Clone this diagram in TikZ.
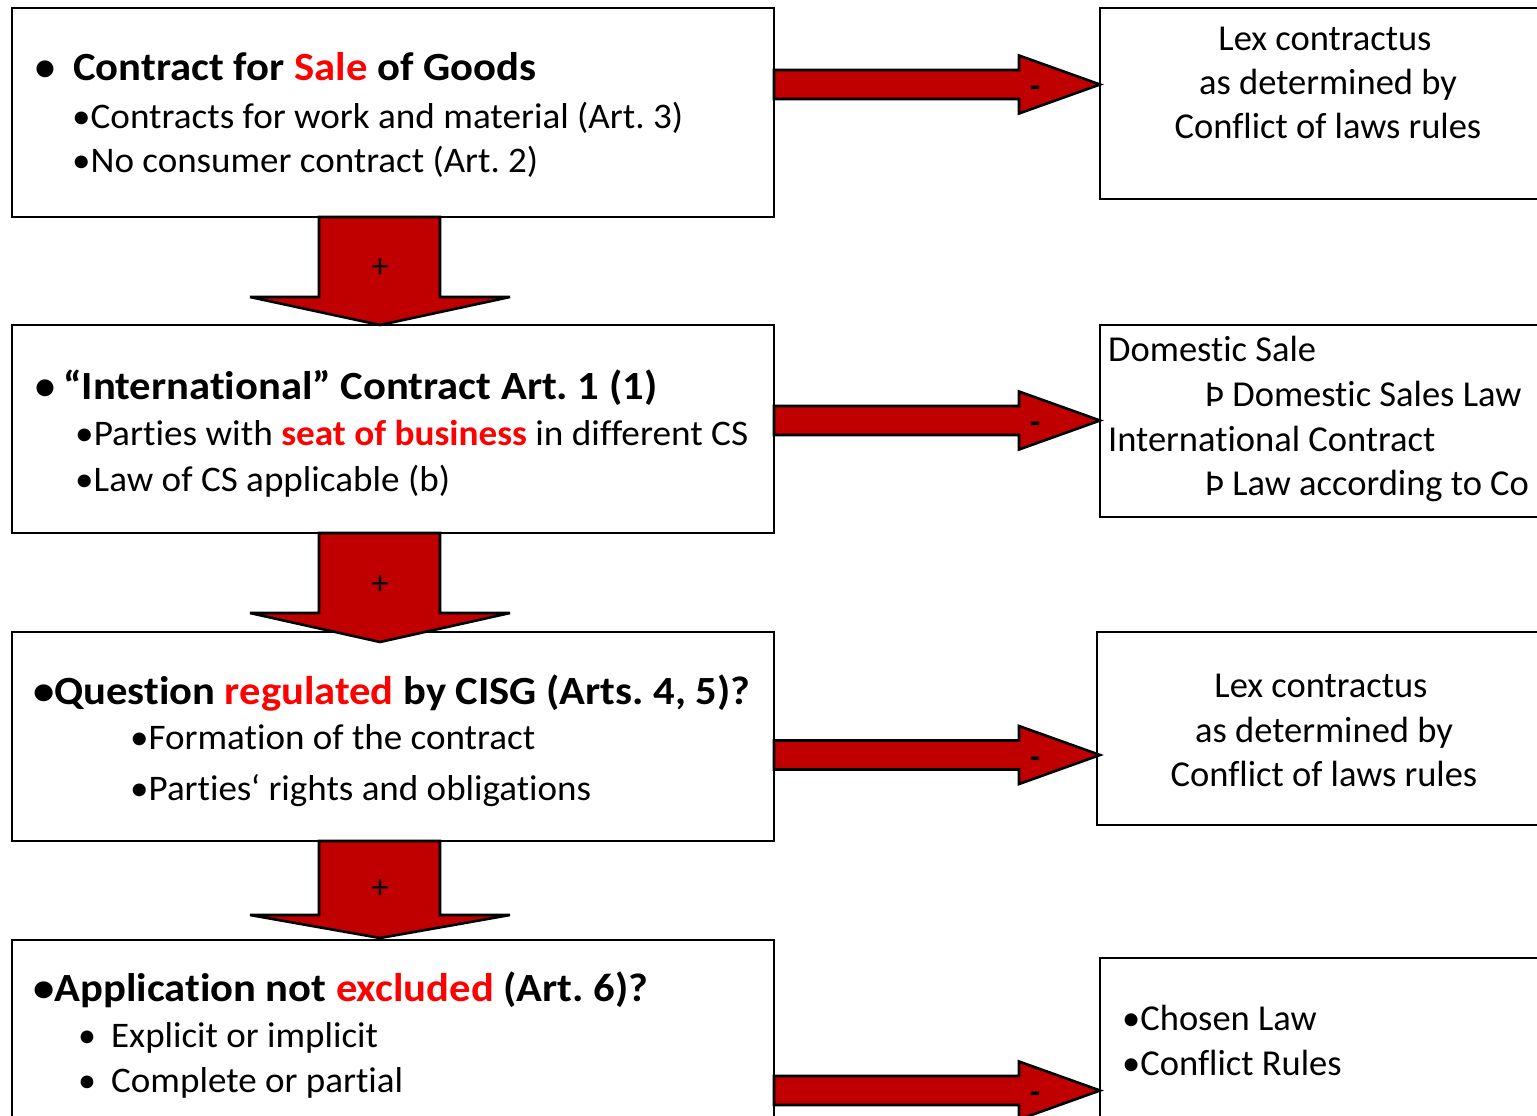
\documentclass[tikz,border=0pt]{standalone}
\usepackage{fontspec}
\setmainfont{Carlito}[Ligatures=NoCommon]
\usepackage{graphicx}
\usetikzlibrary{calc}
\frenchspacing
\definecolor{arrowfill}{HTML}{C00000}
\definecolor{keyred}{HTML}{FF0000}
% set a line to a given width, keeping its natural height
\newcommand{\fitw}[2]{\resizebox{#1}{\height}{#2}}
\newcommand{\hl}[1]{\textcolor{keyred}{#1}}
% block arrow pointing down from box #1 to box #2
% #3 = depth of the head base below #1, #4 = tip shift past top of #2, #5 = name of the sign node, #6 = sign baseline
\newcommand{\dnflow}[6]{%
  \draw[flow] ($(#1.south west)+(307,0)$) -- ($(#1.south west)+(428,0)$)
    -- ($(#1.south west)+(428,#3)$) -- ($(#1.south west)+(498,#3)$)
    -- ($(#2.north west)+(368,#4)$)
    -- ($(#1.south west)+(238,#3)$) -- ($(#1.south west)+(307,#3)$) -- cycle;
  \node[sgn] (#5) at ($(#1.south west)+(368,#6)$) {+};}
% block arrow pointing right from box #1 to box #2
% #3 = centre line below the top of #1, #4 = tip shift, #5 = name of the sign node
\newcommand{\rtflow}[5]{%
  \draw[flow] ($(#1.north east)+(0,#3-14.5)$) -- ($(#1.north east)+(245,#3-14.5)$)
    -- ($(#1.north east)+(245,#3-29)$)
    -- ($(#2.west |- #1.north east)+(#4,#3)$)
    -- ($(#1.north east)+(245,#3+29)$) -- ($(#1.north east)+(245,#3+14.5)$)
    -- ($(#1.north east)+(0,#3+14.5)$) -- cycle;
  \node[sgn,font=\fontsize{34}{40}\selectfont\bfseries] (#5) at ($(#1.north east)+(261,#3+13)$) {-};}
\begin{document}
\begin{tikzpicture}[x=1pt,y=-1pt,
  box/.style={draw=black,line width=2.5pt,fill=white,anchor=north west,inner sep=0pt,outer sep=0pt},
  flow/.style={draw=black,line width=2.6pt,fill=arrowfill,line join=miter,miter limit=4},
  ttl/.style={anchor=base west,inner sep=0pt,font=\fontsize{40}{48}\selectfont\bfseries},
  txt/.style={anchor=base west,inner sep=0pt,font=\fontsize{36}{44}\selectfont},
  ctxt/.style={anchor=base,inner sep=0pt,font=\fontsize{36.5}{44}\selectfont},
  ltxt/.style={anchor=base west,inner sep=0pt,font=\fontsize{36.5}{44}\selectfont},
  sgn/.style={anchor=base,inner sep=0pt,font=\fontsize{34}{40}\selectfont}]
\useasboundingbox (0,0) rectangle (1537,1116);
\clip (0,0) rectangle (1537,1116);
\fill[white] (0,0) rectangle (1537,1116);

% test boxes on the left
\node[box,minimum width=762pt,minimum height=209pt] (c1) at (12,8) {};
\node[box,minimum width=762pt,minimum height=208pt] (c2) at (12,325) {};
\node[box,minimum width=762pt,minimum height=209pt] (c3) at (12,632) {};
\node[box,minimum width=762pt,minimum height=260pt] (c4) at (12,940) {};

% outcome boxes on the right
\node[box,minimum width=500pt,minimum height=191pt] (r1) at (1100,8) {};
\node[box,minimum width=500pt,minimum height=192pt] (r2) at (1100,325) {};
\node[box,minimum width=503pt,minimum height=193pt] (r3) at (1097,632) {};
\node[box,minimum width=500pt,minimum height=260pt] (r4) at (1100,958) {};

% "+" arrows down the chain
\dnflow{c1}{c2}{80}{0}{p1}{60}
\dnflow{c2}{c3}{80}{10}{p2}{61}
\dnflow{c3}{c4}{74}{-2}{p3}{57}

% "-" arrows to the outcomes
\rtflow{c1}{r1}{76.5}{0}{m1}
\rtflow{c2}{r2}{95.5}{0}{m2}
\rtflow{c3}{r3}{123}{3}{m3}
\rtflow{c4}{r4}{150.5}{0}{m4}

% box 1
\node[ttl] (c1d) at (35,81) {•};
\node[ttl] (c1t) at (73,81) {\fitw{463pt}{Contract for \hl{Sale} of Goods}};
\node[txt] (c1a) at (72,128.5) {\fitw{611pt}{•Contracts for work and material (Art. 3)}};
\node[txt] (c1b) at (72,172.5) {\fitw{466pt}{•No consumer contract (Art. 2)}};

% box 2
\node[ttl] (c2d) at (35,399) {•};
\node[ttl] (c2t) at (63,399) {\fitw{594pt}{“International” Contract Art. 1 (1)}};
\node[txt] (c2a) at (75,445.5) {\fitw{673pt}{•Parties with \textbf{\hl{seat of business}} in different CS}};
\node[txt] (c2b) at (75,491.5) {\fitw{375pt}{•Law of CS applicable (b)}};

% box 3
\node[ttl] (c3t) at (33,704) {\fitw{717pt}{•Question \hl{regulated} by CISG (Arts. 4, 5)?}};
\node[txt] (c3a) at (130,749.5) {\fitw{405pt}{•Formation of the contract}};
\node[txt] (c3b) at (130,800.5) {\fitw{461pt}{•Parties‘ rights and obligations}};

% box 4
\node[ttl] (c4t) at (33,1001) {\fitw{615pt}{•Application not \hl{excluded} (Art. 6)?}};
\node[txt] (c4d1) at (78,1047.5) {•};
\node[txt] (c4a) at (111,1047.5) {\fitw{267pt}{Explicit or implicit}};
\node[txt] (c4d2) at (78,1092.5) {•};
\node[txt] (c4b) at (111,1092.5) {\fitw{292pt}{Complete or partial}};

% outcome texts
\node[ctxt] (r1a) at (1325,50.5) {Lex contractus};
\node[ctxt] (r1b) at (1328,94.5) {as determined by};
\node[ctxt] (r1c) at (1328,138.5) {Conflict of laws rules};

\node[ltxt] (r2a) at (1108,361.5) {Domestic Sale};
\node[ltxt] (r2b) at (1205,406.5) {Þ Domestic Sales Law};
\node[ltxt] (r2c) at (1108,451.5) {International Contract};
\node[ltxt] (r2d) at (1205,495.5) {Þ Law according to Co};

\node[ctxt] (r3a) at (1321,697.5) {Lex contractus};
\node[ctxt] (r3b) at (1324,742.5) {as determined by};
\node[ctxt] (r3c) at (1324,786.5) {Conflict of laws rules};

\node[ltxt] (r4a) at (1122,1030.5) {•Chosen Law};
\node[ltxt] (r4b) at (1122,1075.5) {•Conflict Rules};
\end{tikzpicture}
\end{document}
